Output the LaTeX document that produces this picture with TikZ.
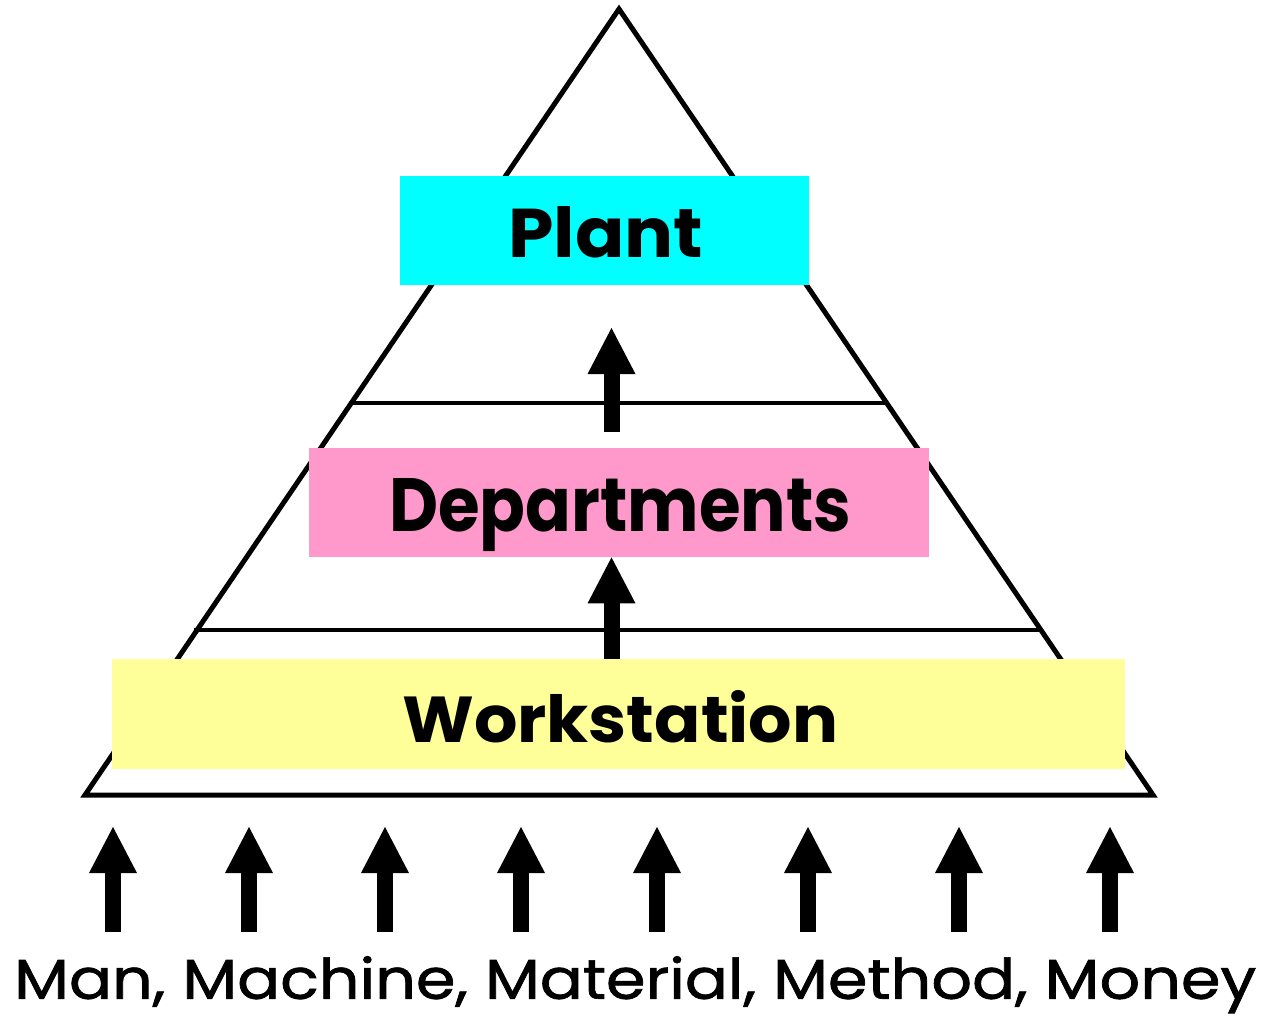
\documentclass[tikz,border=0pt]{standalone}
\usepackage{fontspec}
\setmainfont{Poppins}
\usetikzlibrary{arrows.meta}
\definecolor{plantfill}{HTML}{00FFFF}
\definecolor{deptfill}{HTML}{FF99CC}
\definecolor{workfill}{HTML}{FFFF99}
\begin{document}
\begin{tikzpicture}[x=1pt,y=-1pt,
  frame/.style={line width=5pt, line join=miter},
  divider/.style={line width=4.5pt},
  levelbox/.style={anchor=north west, inner sep=0pt, draw=none},
  levellabel/.style={anchor=base west, inner sep=0pt, font=\bfseries},
  lift/.style={line width=16pt, draw=black,
    -{Triangle[width=48pt, length=46pt, line width=0pt]}}]
\useasboundingbox (0,0) rectangle (1264,1020);

% pyramid outline and level dividers
\draw[frame] (619,9) -- (1153,795) -- (85,795) -- cycle;
\draw[divider] (353,403) -- (885,403);
\draw[divider] (194,630) -- (1042,630);

% level boxes
\node[levelbox, fill=plantfill, minimum width=409pt, minimum height=109pt] (plant) at (400,176) {};
\node[levelbox, fill=deptfill, minimum width=620pt, minimum height=109pt] (dept) at (309,448) {};
\node[levelbox, fill=workfill, minimum width=1013pt, minimum height=110pt] (work) at (112,659) {};

% level labels
\node[levellabel] (plantlabel) at (508,257) {\resizebox{195pt}{51pt}{Plant}};
\node[levellabel] (deptlabel) at (389,531) {\resizebox{462pt}{53pt}{Departments}};
\node[levellabel] (worklabel) at (402,742) {\resizebox{436pt}{52pt}{Workstation}};

% arrows between levels
\coordinate (uptail) at (611.5,432);
\coordinate (uptip) at (611.5,328);
\draw[lift] (uptail) -- (uptip);
\draw[lift] (work.north -| uptail) -- (dept.south -| uptail);

% resource arrows feeding the base
\foreach \x [count=\i] in {113,249,385,521,657,808,959,1110} {
  \coordinate (in\i tail) at (\x,932);
  \coordinate (in\i tip) at (\x,827);
  \draw[lift] (in\i tail) -- (in\i tip);
}

% resources line
\node[anchor=north west, inner sep=0pt] (resources) at (14,956)
  {\resizebox*{1242pt}{57pt}{\addfontfeature{FakeBold=1.2}Man, Machine, Material, Method, Money}};
\end{tikzpicture}
\end{document}
